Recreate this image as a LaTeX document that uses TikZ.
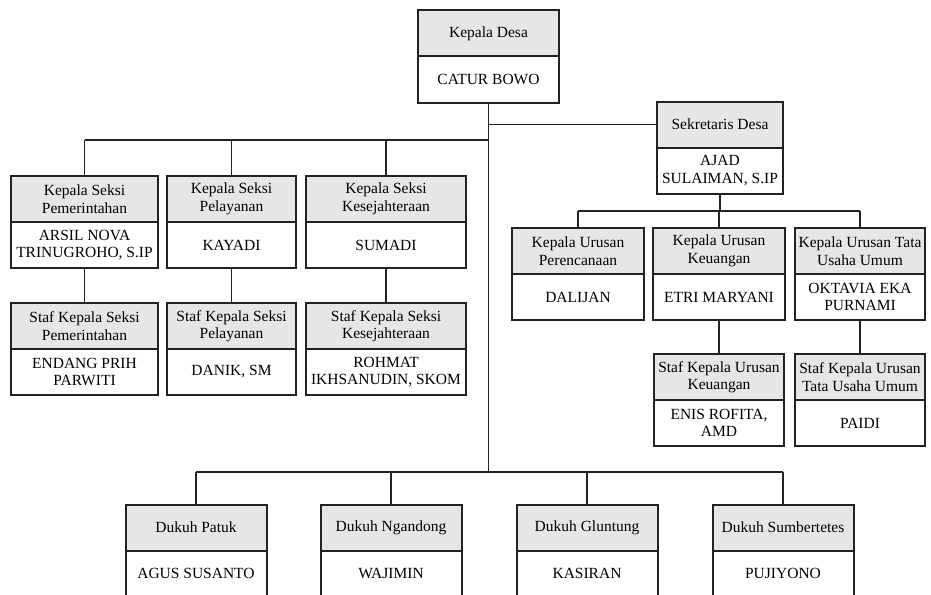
\documentclass[tikz,border=0pt]{standalone}
\usepackage{fontspec}
\setmainfont{Liberation Serif}
\usetikzlibrary{positioning}
\definecolor{headgray}{HTML}{E6E6E6}
\definecolor{linegray}{HTML}{222222}

\begin{document}
\begin{tikzpicture}[x=1pt, y=-1pt,
    every node/.style={font=\fontsize{15.5}{17.5}\selectfont, align=center, inner sep=0pt, outer sep=0pt},
    head/.style={draw=linegray, fill=headgray, line width=2pt, minimum height=46pt},
    body/.style={draw=linegray, fill=white, line width=2pt, minimum height=46pt},
    link/.style={draw=linegray, line width=1.5pt}]
    \clip (0,0) rectangle (931,594);

    % Kepala desa dan sekretaris
    \node[head, minimum width=141pt] (kades) at (488.5,33.5) {Kepala Desa};
    \node[body, minimum width=141pt, below=0pt of kades] (nama-kades) {CATUR BOWO};
    \node[head, minimum width=126pt] (sekdes) at (720,124.5) {Sekretaris Desa};
    \node[body, minimum width=126pt, below=0pt of sekdes] (nama-sekdes) {AJAD\\SULAIMAN, S.IP};

    % Kepala seksi
    \node[head, minimum width=147pt] (seksi1) at (84.5,199) {Kepala Seksi\\Pemerintahan};
    \node[body, minimum width=147pt, below=0pt of seksi1] (nama-seksi1) {ARSIL NOVA\\TRINUGROHO, S.IP};
    \node[head, minimum width=129pt] (seksi2) at (231.5,199) {Kepala Seksi\\Pelayanan};
    \node[body, minimum width=129pt, below=0pt of seksi2] (nama-seksi2) {KAYADI};
    \node[head, minimum width=160pt] (seksi3) at (386,199) {Kepala Seksi\\Kesejahteraan};
    \node[body, minimum width=160pt, below=0pt of seksi3] (nama-seksi3) {SUMADI};

    % Staf kepala seksi
    \node[head, minimum width=147pt] (staf1) at (84.5,326) {Staf Kepala Seksi\\Pemerintahan};
    \node[body, minimum width=147pt, below=0pt of staf1] (nama-staf1) {ENDANG PRIH\\PARWITI};
    \node[head, minimum width=129pt] (staf2) at (231.5,326) {Staf Kepala Seksi\\Pelayanan};
    \node[body, minimum width=129pt, below=0pt of staf2] (nama-staf2) {DANIK, SM};
    \node[head, minimum width=160pt] (staf3) at (386,326) {Staf Kepala Seksi\\Kesejahteraan};
    \node[body, minimum width=160pt, below=0pt of staf3] (nama-staf3) {ROHMAT\\IKHSANUDIN, SKOM};

    % Kepala urusan
    \node[head, minimum width=132pt] (urusan1) at (578,251) {Kepala Urusan\\Perencanaan};
    \node[body, minimum width=132pt, below=0pt of urusan1] (nama-urusan1) {DALIJAN};
    \node[head, minimum width=132pt] (urusan2) at (719,251) {Kepala Urusan\\Keuangan};
    \node[body, minimum width=132pt, below=0pt of urusan2] (nama-urusan2) {ETRI MARYANI};
    \node[head, minimum width=130pt] (urusan3) at (860,251) {Kepala Urusan Tata\\Usaha Umum};
    \node[body, minimum width=130pt, below=0pt of urusan3] (nama-urusan3) {OKTAVIA EKA\\PURNAMI};

    % Staf kepala urusan
    \node[head, minimum width=130pt] (stafur2) at (719,377) {Staf Kepala Urusan\\Keuangan};
    \node[body, minimum width=130pt, below=0pt of stafur2] (nama-stafur2) {ENIS ROFITA,\\AMD};
    \node[head, minimum width=130pt] (stafur3) at (860,377) {Staf Kepala Urusan\\Tata Usaha Umum};
    \node[body, minimum width=130pt, below=0pt of stafur3] (nama-stafur3) {PAIDI};

    % Dukuh
    \node[head, minimum width=141pt] (dukuh1) at (196,527.5) {Dukuh Patuk};
    \node[body, minimum width=141pt, below=0pt of dukuh1] (nama-dukuh1) {AGUS SUSANTO};
    \node[head, minimum width=141pt] (dukuh2) at (391,527.5) {Dukuh Ngandong};
    \node[body, minimum width=141pt, below=0pt of dukuh2] (nama-dukuh2) {WAJIMIN};
    \node[head, minimum width=141pt] (dukuh3) at (587,527.5) {Dukuh Gluntung};
    \node[body, minimum width=141pt, below=0pt of dukuh3] (nama-dukuh3) {KASIRAN};
    \node[head, minimum width=141pt] (dukuh4) at (783,527.5) {Dukuh Sumbertetes};
    \node[body, minimum width=141pt, below=0pt of dukuh4] (nama-dukuh4) {PUJIYONO};

    % Garis penghubung
    \coordinate (bus-seksi) at (0,140);
    \coordinate (bus-urusan) at (0,211);
    \coordinate (bus-dukuh) at (0,472);
    \draw[link] (nama-kades.south) -- (nama-kades.south |- bus-dukuh);
    \draw[link] (nama-kades.south |- sekdes.west) -- (sekdes.west);
    \draw[link] (seksi1.north |- bus-seksi) -- (nama-kades.south |- bus-seksi);
    \foreach \n in {1,2,3} {
        \draw[link] (seksi\n.north |- bus-seksi) -- (seksi\n.north);
        \draw[link] (nama-seksi\n.south) -- (staf\n.north);
        \draw[link] (urusan\n.north |- bus-urusan) -- (urusan\n.north);
    }
    \draw[link] (nama-sekdes.south) -- (nama-sekdes.south |- bus-urusan);
    \draw[link] (urusan1.north |- bus-urusan) -- (urusan3.north |- bus-urusan);
    \draw[link] (nama-urusan2.south) -- (stafur2.north);
    \draw[link] (nama-urusan3.south) -- (stafur3.north);
    \draw[link] (dukuh1.north |- bus-dukuh) -- (dukuh4.north |- bus-dukuh);
    \foreach \n in {1,...,4}
        \draw[link] (dukuh\n.north |- bus-dukuh) -- (dukuh\n.north);
\end{tikzpicture}
\end{document}
